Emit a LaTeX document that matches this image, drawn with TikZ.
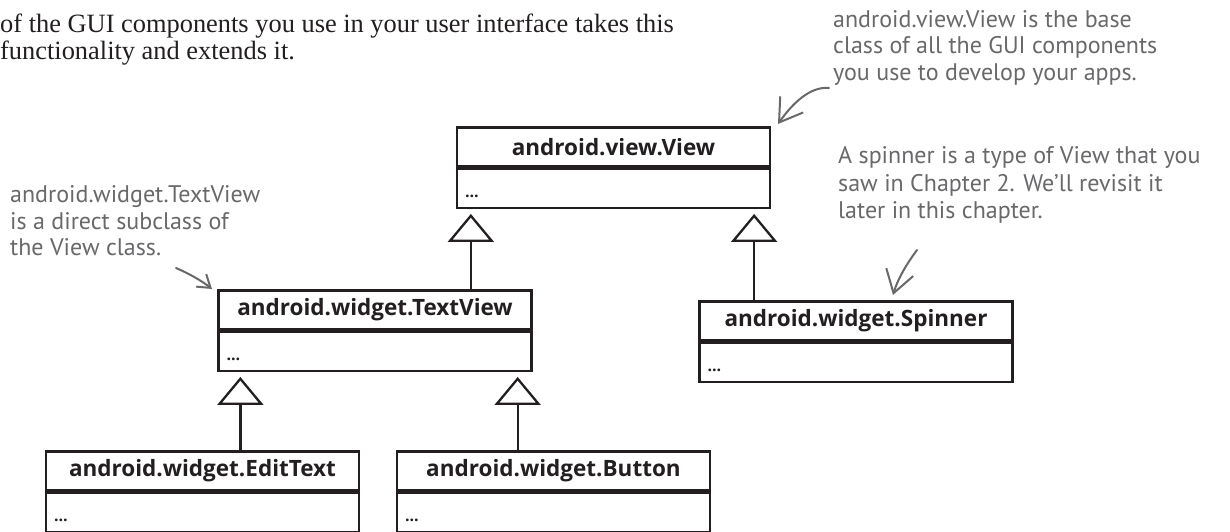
\documentclass[tikz,border=0pt]{standalone}
\usepackage{fontspec}
\setmainfont{Liberation Serif}
\newfontfamily\boxfont{Open Sans}
\newfontfamily\handfont{PT Sans}
\usetikzlibrary{arrows.meta}
\definecolor{ink}{RGB}{35,31,32}
\definecolor{notegray}{RGB}{105,105,108}
\begin{document}
\begin{tikzpicture}[x=1pt,y=-1pt,
  classtitle/.style={draw=ink, line width=2.3pt, minimum width=313pt, minimum height=39pt, inner sep=0pt,
    font=\boxfont\bfseries\fontsize{22.5}{26}\selectfont, text=ink},
  classbody/.style={draw=ink, line width=2.3pt, minimum width=313pt, minimum height=39pt, inner sep=0pt,
    text width=297pt, align=left, text height=18pt, text depth=0pt,
    font=\boxfont\bfseries\fontsize{16}{20}\selectfont, text=ink, anchor=north},
  inherits/.style={draw=ink, line width=2.3pt, -{Triangle[open, length=28pt, width=46pt]}},
  intro/.style={font=\fontsize{26.4}{30}\selectfont, text=ink, anchor=base west, inner sep=0pt},
  hand/.style={font=\handfont\fontsize{24}{28}\selectfont, text=notegray, anchor=base west, inner sep=0pt},
  notearrow/.style={draw=notegray, line width=2pt, line cap=round, line join=round},
  bigbarb/.style={-{Straight Barb[length=22pt, width=28pt, line width=2pt]}},
  smallbarb/.style={-{Straight Barb[length=12pt, width=16pt, line width=2pt]}}
]
\fill[white] (0,0) rectangle (1230,531);
\useasboundingbox (0,0) rectangle (1230,531);

% intro text
\node[intro] (intro1) at (0,32) {of the GUI components you use in your user interface takes this};
\node[intro] (intro2) at (0,59) {functionality and extends it.};

% classes
\node[classtitle] (view) at (613.5,147) {android.view.View};
\node[classbody] (viewb) at (view.south) {...};

\node[classtitle] (tv) at (375,310) {android.widget.TextView};
\node[classbody] (tvb) at (tv.south) {...};

\node[classtitle] (sp) at (856,321) {android.widget.Spinner};
\node[classbody] (spb) at (sp.south) {...};

\node[classtitle] (et) at (202.5,471) {android.widget.EditText};
\node[classbody] (etb) at (et.south) {...};

\node[classtitle] (bt) at (553.5,471) {android.widget.Button};
\node[classbody] (btb) at (bt.south) {...};

% inheritance
\coordinate (vt1) at ([xshift=15pt, yshift=-5pt]viewb.south west);
\coordinate (vt2) at ([xshift=-17pt, yshift=-5pt]viewb.south east);
\coordinate (tt1) at ([xshift=23pt, yshift=-5pt]tvb.south west);
\coordinate (tt2) at ([xshift=-15pt, yshift=-5pt]tvb.south east);
\draw[inherits] (tv.north -| vt1) -- (vt1);
\draw[inherits] (sp.north -| vt2) -- (vt2);
\draw[inherits] (et.north -| tt1) -- (tt1);
\draw[inherits] (bt.north -| tt2) -- (tt2);

% annotations
\node[hand] (n1a) at (833,27) {android.view.View is the base};
\node[hand] (n1b) at (833,53) {class of all the GUI components};
\node[hand] (n1c) at (833,80) {you use to develop your apps.};

\node[hand] (n2a) at (10,202) {android.widget.TextView};
\node[hand] (n2b) at (10,229) {is a direct subclass of};
\node[hand] (n2c) at (10,255) {the View class.};

\node[hand] (n3a) at (838,163) {A spinner is a type of View that you};
\node[hand] (n3b) at (838,191) {saw in Chapter 2. We’ll revisit it};
\node[hand] (n3c) at (838,218) {later in this chapter.};

\coordinate (a1tail) at (829,88);
\coordinate (a1tip) at (778,124);
\draw[notearrow, bigbarb] (a1tail) .. controls (810,86) and (792,104) .. (a1tip);

\coordinate (a2tail) at (176,268);
\coordinate (a2tip) at (212,289);
\draw[notearrow, smallbarb] (a2tail) .. controls (190,274) and (202,281) .. (a2tip);

\coordinate (a3tail) at (917,250);
\coordinate (a3tip) at (893,295);
\draw[notearrow, bigbarb] (a3tail) .. controls (908,262) and (898,278) .. (a3tip);
\end{tikzpicture}
\end{document}
